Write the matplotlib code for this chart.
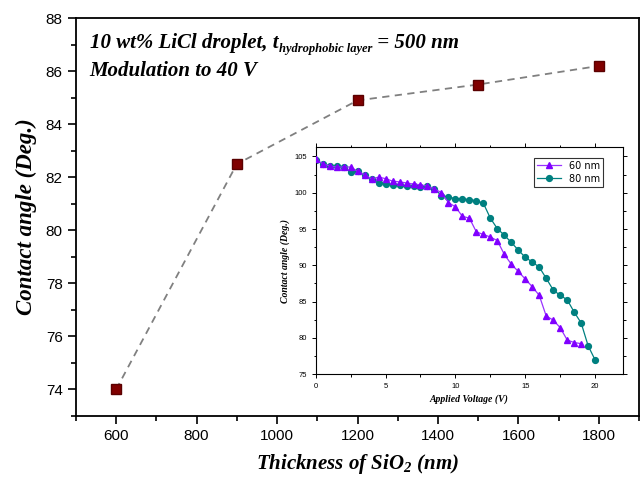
import matplotlib
matplotlib.use("Agg")
import matplotlib.pyplot as plt
from matplotlib.ticker import MultipleLocator

plt.rcParams['mathtext.fontset'] = 'custom'
plt.rcParams['mathtext.rm'] = 'Liberation Serif:italic:bold'
plt.rcParams['mathtext.it'] = 'Liberation Serif:italic:bold'
plt.rcParams['mathtext.bf'] = 'Liberation Serif:italic:bold'

# main data
thickness = [600, 900, 1200, 1500, 1800]
angle = [74.0, 82.5, 84.9, 85.5, 86.2]

# inset data
volt_80 = [0, 0.5, 1, 1.5, 2, 2.5, 3, 3.5, 4, 4.5, 5, 5.5, 6, 6.5, 7, 7.5, 8, 8.5,
           9, 9.5, 10, 10.5, 11, 11.5, 12, 12.5, 13, 13.5, 14, 14.5, 15, 15.5, 16,
           16.5, 17, 17.5, 18, 18.5, 19, 19.5, 20]
angle_80 = [104.45, 104.0, 103.7, 103.7, 103.6, 102.8, 102.95, 102.5, 101.85, 101.35,
            101.25, 101.1, 101.1, 100.9, 100.9, 100.85, 100.9, 100.55, 99.6, 99.4,
            99.2, 99.15, 99.05, 98.9, 98.55, 96.5, 95.05, 94.15, 93.15, 92.1, 91.1,
            90.45, 89.75, 88.2, 86.6, 85.85, 85.25, 83.55, 82.05, 78.9, 76.95]
volt_60 = [0, 0.5, 1, 1.5, 2, 2.5, 3, 3.5, 4, 4.5, 5, 5.5, 6, 6.5, 7, 7.5, 8, 8.5,
           9, 9.5, 10, 10.5, 11, 11.5, 12, 12.5, 13, 13.5, 14, 14.5, 15, 15.5, 16,
           16.5, 17, 17.5, 18, 18.5, 19]
angle_60 = [104.6, 104.0, 103.7, 103.55, 103.55, 103.55, 102.95, 102.5, 101.9, 102.15,
            101.95, 101.6, 101.5, 101.35, 101.2, 101.1, 100.9, 100.55, 100.0, 98.65,
            98.05, 96.75, 96.5, 94.6, 94.25, 93.9, 93.4, 91.5, 90.15, 89.15, 88.1,
            87.05, 85.85, 83.0, 82.45, 81.4, 79.7, 79.35, 79.2]

serif = dict(family='Liberation Serif', style='italic', weight='bold')

fig = plt.figure(figsize=(6.43, 4.79), dpi=100)
ax = fig.add_axes([0.118, 0.1315, 0.876, 0.8305])
ax.plot(thickness, angle, linestyle=(0, (4, 3)), color='#808080', lw=1.3, zorder=2)
ax.plot(thickness, angle, linestyle='none', marker='s', ms=7, color='#800000',
        markeredgecolor='#5a0000', zorder=3)
ax.set_xlim(500, 1900)
ax.set_ylim(73, 88)
ax.xaxis.set_major_locator(MultipleLocator(200))
ax.xaxis.set_minor_locator(MultipleLocator(100))
ax.yaxis.set_major_locator(MultipleLocator(2))
ax.yaxis.set_minor_locator(MultipleLocator(1))
ax.tick_params(which='major', direction='out', length=6, width=1.2, labelsize=11)
ax.tick_params(which='minor', direction='out', length=3.5, width=1.2)
for lab in ax.get_xticklabels() + ax.get_yticklabels():
    lab.set_family('Liberation Sans')
for s in ax.spines.values():
    s.set_linewidth(1.3)
ax.set_xlabel(r"Thickness of SiO$_2$ (nm)", fontsize=15, labelpad=6, **serif)
ax.set_ylabel("Contact angle (Deg.)", fontsize=16.5, labelpad=6, **serif)

t1 = ax.text(0.0245, 0.912, "10 wt% LiCl droplet, t", transform=ax.transAxes,
             fontsize=15, va='bottom', **serif)
sub = ax.annotate("hydrophobic layer", xy=(1, 0), xycoords=t1, xytext=(0.5, -1.5),
                  textcoords='offset points', va='bottom', ha='left',
                  fontsize=9, **serif)
ax.annotate(" = 500 nm", xy=(1, 0), xycoords=(sub, t1), va='bottom', ha='left',
            fontsize=15, **serif)
ax.text(0.0245, 0.843, "Modulation to 40 V", transform=ax.transAxes,
        fontsize=15, va='bottom', **serif)

ins = fig.add_axes([0.491, 0.219, 0.478, 0.474])
ins.plot(volt_80, angle_80, color='#008080', lw=0.9, marker='o', ms=4.2,
         label='80 nm', zorder=2)
ins.plot(volt_60, angle_60, color='#9933ff', lw=0.9, marker='^', ms=4.5,
         markerfacecolor='#8000ff', markeredgecolor='#8000ff', label='60 nm', zorder=3)
h, l = ins.get_legend_handles_labels()
leg = ins.legend(h[::-1], l[::-1], loc='upper right', bbox_to_anchor=(0.935, 0.952),
                 fontsize=7, frameon=True, fancybox=False, edgecolor='black',
                 borderpad=0.3, handlelength=2.5, labelspacing=0.3, borderaxespad=0)
leg.get_frame().set_linewidth(0.8)
ins.set_xlim(0, 22)
ins.set_ylim(75, 106.3)
ins.xaxis.set_major_locator(MultipleLocator(5))
ins.xaxis.set_minor_locator(MultipleLocator(2.5))
ins.yaxis.set_major_locator(MultipleLocator(5))
ins.yaxis.set_minor_locator(MultipleLocator(2.5))
ins.tick_params(which='both', top=True, right=True, labelsize=5.5, width=0.7)
ins.tick_params(which='major', length=3)
ins.tick_params(which='minor', length=1.8)
for lab in ins.get_xticklabels() + ins.get_yticklabels():
    lab.set_family('Liberation Sans')
for s in ins.spines.values():
    s.set_linewidth(0.8)
ins.set_xlabel("Applied Voltage (V)", fontsize=7, labelpad=3, **serif)
ins.set_ylabel("Contact angle (Deg.)", fontsize=7, labelpad=3, **serif)

fig.savefig("out.png", dpi=100)
